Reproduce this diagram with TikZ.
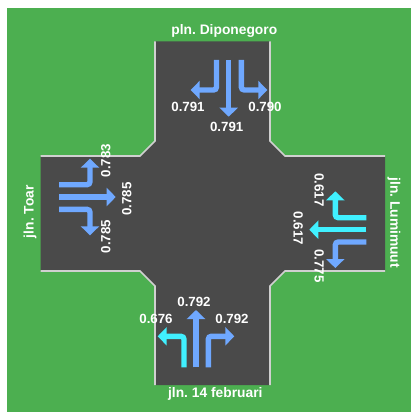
\documentclass[tikz,border=0pt]{standalone}
\usepackage{fontspec}
\setmainfont{Liberation Sans}
\usetikzlibrary{arrows.meta}
\definecolor{grass}{HTML}{4CAF50}
\definecolor{road}{HTML}{4A4A4A}
\definecolor{curb}{HTML}{D0D0D0}
\definecolor{lowflow}{HTML}{6FA8FF}
\definecolor{highflow}{HTML}{40F0FF}
\tikzset{
  flow/.style={line width=5.4pt,rounded corners=3pt,-{Triangle[width=18pt,length=9pt]}},
  lab/.style={text=white,font=\bfseries\fontsize{13.3}{15}\selectfont,inner sep=0pt},
  roadname/.style={text=white,font=\bfseries\fontsize{13.8}{15}\selectfont,inner sep=0pt},
  curbline/.style={draw=curb,line width=1.6pt,line join=miter}
}
\begin{document}
\frenchspacing
\begin{tikzpicture}[x=1pt,y=-1pt]
\useasboundingbox (0,0) rectangle (411,412);
\fill[white] (0,0) rectangle (411,412);
\fill[grass] (7,8) rectangle (411,412);
\fill[road] (155,41.5) -- (270,41.5) -- (270,141) -- (285,156) -- (385,156) -- (385,271) -- (285,271) -- (270,286) -- (270,385) -- (155,385) -- (155,286) -- (140,271) -- (40.5,271) -- (40.5,156) -- (140,156) -- (155,141) -- cycle;
\draw[curbline] (155,41.5) -- (155,141) -- (140,156) -- (40.5,156);
\draw[curbline] (270,41.5) -- (270,141) -- (285,156) -- (385,156);
\draw[curbline] (40.5,271) -- (140,271) -- (155,286) -- (155,385);
\draw[curbline] (385,271) -- (285,271) -- (270,286) -- (270,385);
% north
\draw[flow,draw=lowflow] (216.5,60) -- (216.5,90) -- (190.7,90);
\draw[flow,draw=lowflow] (228.7,60) -- (228.7,116.7);
\draw[flow,draw=lowflow] (241.3,60) -- (241.3,90) -- (267.3,90);
% west
\draw[flow,draw=lowflow] (59,184.7) -- (90,184.7) -- (90,158.7);
\draw[flow,draw=lowflow] (59,197) -- (115.7,197);
\draw[flow,draw=lowflow] (59,209.3) -- (90,209.3) -- (90,235.3);
% east
\draw[flow,draw=highflow] (366.3,217.7) -- (335.3,217.7) -- (335.3,191.3);
\draw[flow,draw=highflow] (366.3,229.7) -- (309.3,229.7);
\draw[flow,draw=lowflow] (366.3,242) -- (335.3,242) -- (335.3,268);
% south
\draw[flow,draw=highflow] (184,367.3) -- (184,336.3) -- (157.7,336.3);
\draw[flow,draw=lowflow] (196,367.3) -- (196,310);
\draw[flow,draw=lowflow] (208.3,367.3) -- (208.3,336.3) -- (234.3,336.3);
% labels
\node[roadname] (n) at (224.3,31) {pln. Diponegoro};
\node[lab] (n1) at (188,106.7) {0.791};
\node[lab] (n2) at (226.7,127.3) {0.791};
\node[lab] (n3) at (265,106.7) {0.790};
\node[roadname,rotate=90] (w) at (30,211.7) {jln. Toar};
\node[lab,rotate=90] (w1) at (105.7,160.7) {0.783};
\node[lab,rotate=90] (w2) at (126.7,199) {0.785};
\node[lab,rotate=90] (w3) at (105.7,236.7) {0.785};
\node[roadname,rotate=-90] (e) at (394,222.7) {jln. Lumimuut};
\node[lab,rotate=-90] (e1) at (319.3,190) {0.617};
\node[lab,rotate=-90] (e2) at (298.3,228.3) {0.617};
\node[lab,rotate=-90] (e3) at (319.3,266) {0.775};
\node[roadname] (s) at (215.3,394) {jln. 14 februari};
\node[lab] (s1) at (156,319) {0.676};
\node[lab] (s2) at (194,301.7) {0.792};
\node[lab] (s3) at (232,319) {0.792};
\end{tikzpicture}
\end{document}
